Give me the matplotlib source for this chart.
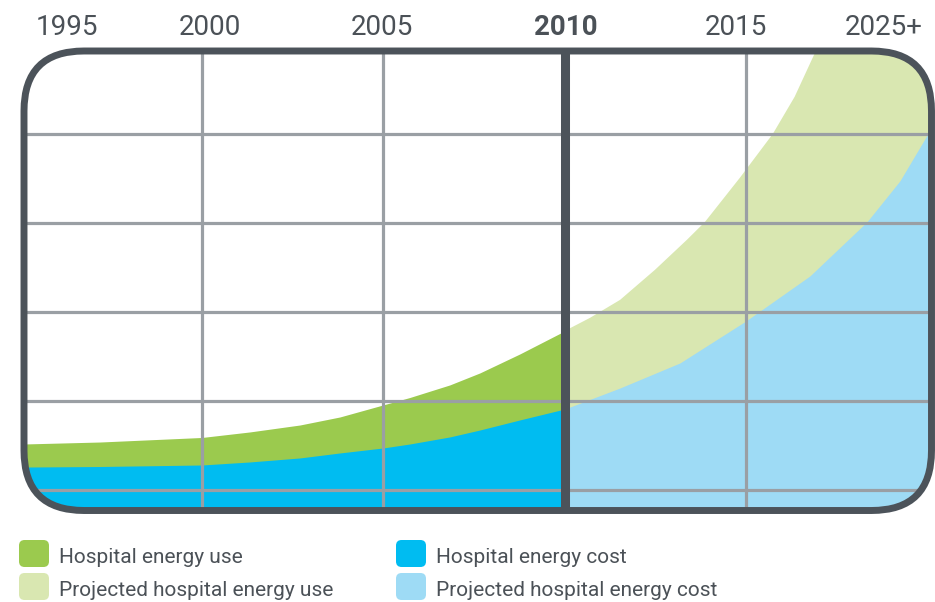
import numpy as np
import matplotlib.pyplot as plt
from matplotlib.patches import FancyBboxPatch

plt.rcParams['font.family'] = ['Roboto', 'DejaVu Sans']

# historical part (up to 2010), values in grid units (grid lines at 1..5)
years_hist = [1995.1, 1997.19, 2000.0, 2001.32, 2002.7, 2003.8, 2004.99,
              2005.73, 2006.83, 2007.66, 2008.76, 2010.0]
cost_hist = [1.258, 1.264, 1.281, 1.315, 1.36, 1.416, 1.472,
             1.517, 1.596, 1.674, 1.787, 1.91]
use_hist = [1.517, 1.539, 1.590, 1.652, 1.730, 1.820, 1.955,
            2.039, 2.180, 2.315, 2.528, 2.787]

# projected part (2010 onwards)
years_cost_proj = [2010.0, 2011.52, 2013.17, 2014.99, 2016.75, 2018.32, 2019.23, 2020.0, 2020.33]
cost_proj = [1.91, 2.146, 2.427, 2.899, 3.404, 4.011, 4.472, 5.0, 5.247]
years_use_proj = [2010.0, 2010.69, 2011.52, 2012.48, 2013.36, 2013.86, 2014.82,
                  2015.73, 2016.33, 2016.89, 2017.44, 2020.33]
use_proj = [2.787, 2.933, 3.135, 3.472, 3.809, 4.011, 4.506,
            5.0, 5.416, 5.91, 6.393, 8.0]

grid_years = [2000, 2005, 2015]
grid_levels = [1, 2, 3, 4, 5]
divider_year = 2010

tick_pos = [1996.27, 2000.22, 2004.96, 2010.03, 2014.71, 2018.79]
tick_labels = ['1995', '2000', '2005', '2010', '2015', '2025+']

legend_labels = ['Hospital energy use', 'Projected hospital energy use',
                 'Hospital energy cost', 'Projected hospital energy cost']

GREEN = '#9bca4e'
GREEN_L = '#d9e7b1'
BLUE = '#00bcf1'
BLUE_L = '#9edbf5'
FRAME = '#4c535a'
GRID = '#9a9fa4'
TEXT = '#4b5157'

W, H = 935, 602
fig = plt.figure(figsize=(W / 100, H / 100), dpi=100)

# axes box = centre line of the rounded frame (pixels)
x0, x1, y0, y1 = 24, 931.5, 51, 510.5
ax = fig.add_axes([x0 / W, 1 - y1 / H, (x1 - x0) / W, (y1 - y0) / H])
ax.set_xlim(1995.1, 2020.1)
ax.set_ylim(0.77, 5.93)
ax.axis('off')

aspect = (x1 - x0) / (y1 - y0)
radius = 60 / (x1 - x0)
clip = FancyBboxPatch((0, 0), 1, 1, boxstyle=f'round,pad=0,rounding_size={radius}',
                      mutation_aspect=aspect, transform=ax.transAxes,
                      facecolor='none', edgecolor='none')
ax.add_patch(clip)

bottom = 0.0
arts = []
arts.append(ax.fill_between(years_hist, bottom, use_hist, color=GREEN, lw=0, zorder=1))
arts.append(ax.fill_between(years_hist, bottom, cost_hist, color=BLUE, lw=0, zorder=2))
arts.append(ax.fill_between(years_use_proj, bottom, use_proj, color=GREEN_L, lw=0, zorder=1))
arts.append(ax.fill_between(years_cost_proj, bottom, cost_proj, color=BLUE_L, lw=0, zorder=2))

for lv in grid_levels:
    arts.append(ax.axhline(lv, color=GRID, lw=2.3, zorder=3))
for yr in grid_years:
    arts.append(ax.axvline(yr, color=GRID, lw=2.3, zorder=3))
arts.append(ax.axvline(divider_year, color=FRAME, lw=6.5, zorder=4))

for a in arts:
    a.set_clip_path(clip)

frame = FancyBboxPatch((0, 0), 1, 1, boxstyle=f'round,pad=0,rounding_size={radius}',
                       mutation_aspect=aspect, transform=ax.transAxes,
                       facecolor='none', edgecolor=FRAME, lw=5, zorder=5, clip_on=False)
ax.add_patch(frame)

# year labels along the top (baseline at pixel row 35)
lab_y = 1 + (y0 - 35) / (y1 - y0)
for pos, lab in zip(tick_pos, tick_labels):
    ax.text(pos, lab_y, lab, transform=ax.get_xaxis_transform(), ha='center', va='baseline',
            fontsize=20, color=TEXT, fontweight='bold' if lab == '2010' else 'normal')

# legend drawn by hand
leg_cols = [GREEN, GREEN_L, BLUE, BLUE_L]
leg_x = [19, 19, 396, 396]
leg_y = [540, 573, 540, 573]
for col, lx, ly, lab in zip(leg_cols, leg_x, leg_y, legend_labels):
    sq = FancyBboxPatch((lx / W, 1 - (ly + 27) / H), 30 / W, 27 / H,
                        boxstyle='round,pad=0,rounding_size=0.006',
                        mutation_aspect=W / H, transform=fig.transFigure,
                        facecolor=col, edgecolor='none')
    fig.patches.append(sq)
    fig.text((lx + 40) / W, 1 - (ly + 23) / H, lab, ha='left', va='baseline',
             fontsize=15, color=TEXT)

fig.savefig('out.png', dpi=100, facecolor='white')
